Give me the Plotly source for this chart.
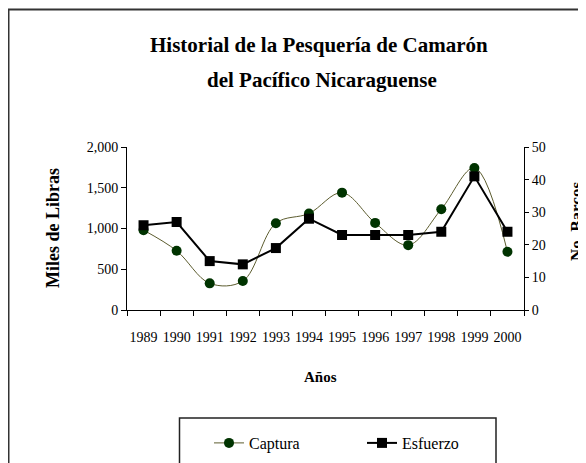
import plotly.graph_objects as go

years = ["1989", "1990", "1991", "1992", "1993", "1994", "1995", "1996", "1997", "1998", "1999", "2000"]
captura = [980, 727, 327, 355, 1065, 1184, 1440, 1069, 796, 1237, 1743, 714]
esfuerzo = [26, 27, 15, 14, 19, 28, 23, 23, 23, 24, 41, 24]

FONT = "Liberation Serif"

# the page has an 8px body margin; the figure starts at page (8, 8)
OFF = 8
W, H = 586 - OFF, 463 - OFF
# plot area in page pixels
L, R, T, B = 127, 524, 147, 310
pw, ph = R - L, B - T

def px(x):
    return (x - L) / pw

def py(y):
    return (B - y) / ph

fig = go.Figure()
fig.add_trace(go.Scatter(
    x=years, y=captura, name="Captura", mode="lines+markers",
    line=dict(color="#5c5c2e", width=1, shape="spline", smoothing=1.0),
    marker=dict(symbol="circle", size=10, color="#003300"),
    yaxis="y",
))
fig.add_trace(go.Scatter(
    x=years, y=esfuerzo, name="Esfuerzo", mode="lines+markers",
    line=dict(color="#000000", width=2),
    marker=dict(symbol="square", size=10, color="#000000"),
    yaxis="y2",
))

fig.update_layout(
    width=W, height=H,
    margin=dict(l=L - OFF, r=W - (R - OFF), t=T - OFF, b=H - (B - OFF), pad=0, autoexpand=False),
    paper_bgcolor="white", plot_bgcolor="white",
    font=dict(family=FONT, size=14, color="black"),
    showlegend=True,
    legend=dict(
        orientation="h", xref="container", yref="container",
        x=(209 - OFF) / W, y=(H - (443 - OFF)) / H, xanchor="left", yanchor="middle",
        font=dict(family=FONT, size=16, color="black"),
        borderwidth=0, bgcolor="rgba(0,0,0,0)",
        entrywidth=108, entrywidthmode="pixels",
    ),
    xaxis=dict(
        type="category", range=[-0.5, 11.5], showgrid=False, zeroline=False,
        showline=True, linecolor="black", linewidth=1,
        ticks="outside", ticklen=5, tickcolor="black", tickson="boundaries",
        tickfont=dict(family=FONT, size=14), ticklabelstandoff=14, tickangle=0,
    ),
    yaxis=dict(
        range=[0, 2000], tickvals=[0, 500, 1000, 1500, 2000], tickformat=",",
        showgrid=False, zeroline=False, showline=True, linecolor="black", linewidth=1,
        ticks="outside", ticklen=5, tickcolor="black",
        tickfont=dict(family=FONT, size=14),
    ),
    yaxis2=dict(
        range=[0, 50], tickvals=[0, 10, 20, 30, 40, 50], overlaying="y", side="right",
        showgrid=False, zeroline=False, showline=True, linecolor="black", linewidth=1,
        ticks="outside", ticklen=4, tickcolor="black",
        tickfont=dict(family=FONT, size=14),
    ),
)

annotations = [
    dict(text="<b>Historial de la Pesquería de Camarón</b>", x=px(319), y=py(45),
         font=dict(family=FONT, size=21)),
    dict(text="<b>del Pacífico Nicaraguense</b>", x=px(322), y=py(80),
         font=dict(family=FONT, size=21)),
    dict(text="<b>Años</b>", x=px(320), y=py(377), font=dict(family=FONT, size=15)),
    dict(text="<b>Miles de Libras</b>", x=px(53), y=py(228), textangle=-90,
         font=dict(family=FONT, size=18)),
    dict(text="<b>No. Barcos</b>", x=px(576), y=py(222), textangle=-90,
         font=dict(family=FONT, size=17)),
]
for a in annotations:
    a.update(xref="paper", yref="paper", showarrow=False, xanchor="center", yanchor="middle")
fig.update_layout(annotations=annotations)

fig.update_layout(shapes=[
    dict(type="rect", xref="paper", yref="paper", x0=px(8.5), x1=px(600), y0=py(9.5), y1=py(480),
         line=dict(color="#333333", width=2), fillcolor="rgba(0,0,0,0)", layer="below"),
    dict(type="rect", xref="paper", yref="paper", x0=px(179.5), x1=px(496), y0=py(418), y1=py(480),
         line=dict(color="#222222", width=1.5), fillcolor="rgba(0,0,0,0)", layer="below"),
])

fig.write_html("out.html")
